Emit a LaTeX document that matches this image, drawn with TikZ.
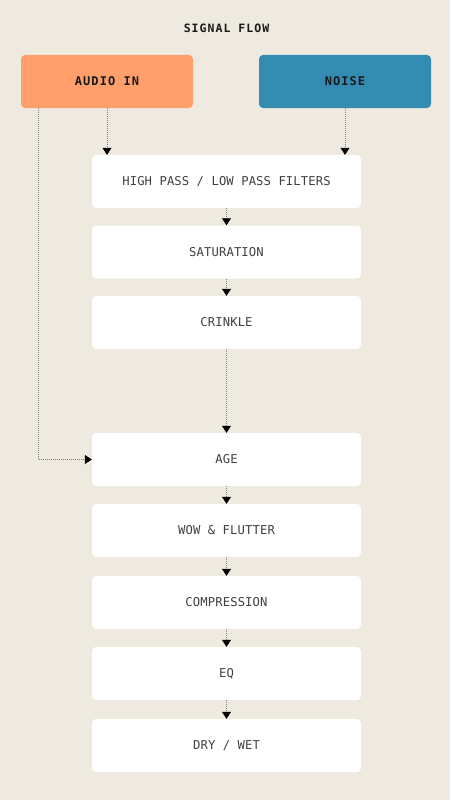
\documentclass[tikz,border=0pt]{standalone}
\usepackage{fontspec}
\setmonofont{DejaVu Sans Mono}
\newfontfamily\titlefont[LetterSpace=9]{DejaVu Sans Mono Bold}
\newfontfamily\boxfont[LetterSpace=1]{DejaVu Sans Mono}
\usetikzlibrary{arrows.meta}
\definecolor{bgc}{HTML}{EEEAE0}
\definecolor{audioc}{HTML}{FF9F6B}
\definecolor{noisec}{HTML}{358CB3}
\definecolor{txtc}{HTML}{404040}
\definecolor{linec}{HTML}{808080}
\tikzset{
  stage/.style={rectangle, rounded corners=4pt, fill=white, minimum width=269pt, minimum height=53pt, inner sep=0pt, font=\boxfont\fontsize{12.2}{13}\selectfont, text=txtc},
  source/.style={rectangle, rounded corners=4pt, minimum width=172pt, minimum height=53pt, inner sep=0pt, font=\titlefont\fontsize{12}{13}\selectfont, text=black!90},
  flow/.style={draw=linec, line width=0.7pt, dash pattern=on 1pt off 1pt, -{Triangle[width=9pt,length=7pt,fill=black,color=black]}},
}
\begin{document}
\begin{tikzpicture}[x=1pt,y=-1pt]
\fill[bgc] (0,0) rectangle (450,800);
\useasboundingbox (0,0) rectangle (450,800);
\node[font=\titlefont\fontsize{11.5}{12}\selectfont, text=black!90] (title) at (226.5,28) {SIGNAL FLOW};
\node[source, fill=audioc] (audio) at (107,81.5) {AUDIO IN};
\node[source, fill=noisec] (noise) at (345,81.5) {NOISE};
\node[stage] (hpf) at (226.5,181.5) {HIGH PASS / LOW PASS FILTERS};
\node[stage] (sat) at (226.5,252) {SATURATION};
\node[stage] (crk) at (226.5,322.5) {CRINKLE};
\node[stage] (age) at (226.5,459.5) {AGE};
\node[stage] (wow) at (226.5,530.5) {WOW \& FLUTTER};
\node[stage] (comp) at (226.5,602.5) {COMPRESSION};
\node[stage] (eq) at (226.5,673.5) {EQ};
\node[stage] (dw) at (226.5,745.5) {DRY / WET};
\coordinate (tap) at (38,108);
\draw[flow] (audio.south) -- (audio.south |- hpf.north);
\draw[flow] (noise.south) -- (noise.south |- hpf.north);
\draw[flow] (tap) |- (age.west);
\draw[flow] (hpf) -- (sat);
\draw[flow] (sat) -- (crk);
\draw[flow] (crk) -- (age);
\draw[flow] (age) -- (wow);
\draw[flow] (wow) -- (comp);
\draw[flow] (comp) -- (eq);
\draw[flow] (eq) -- (dw);
\end{tikzpicture}
\end{document}
